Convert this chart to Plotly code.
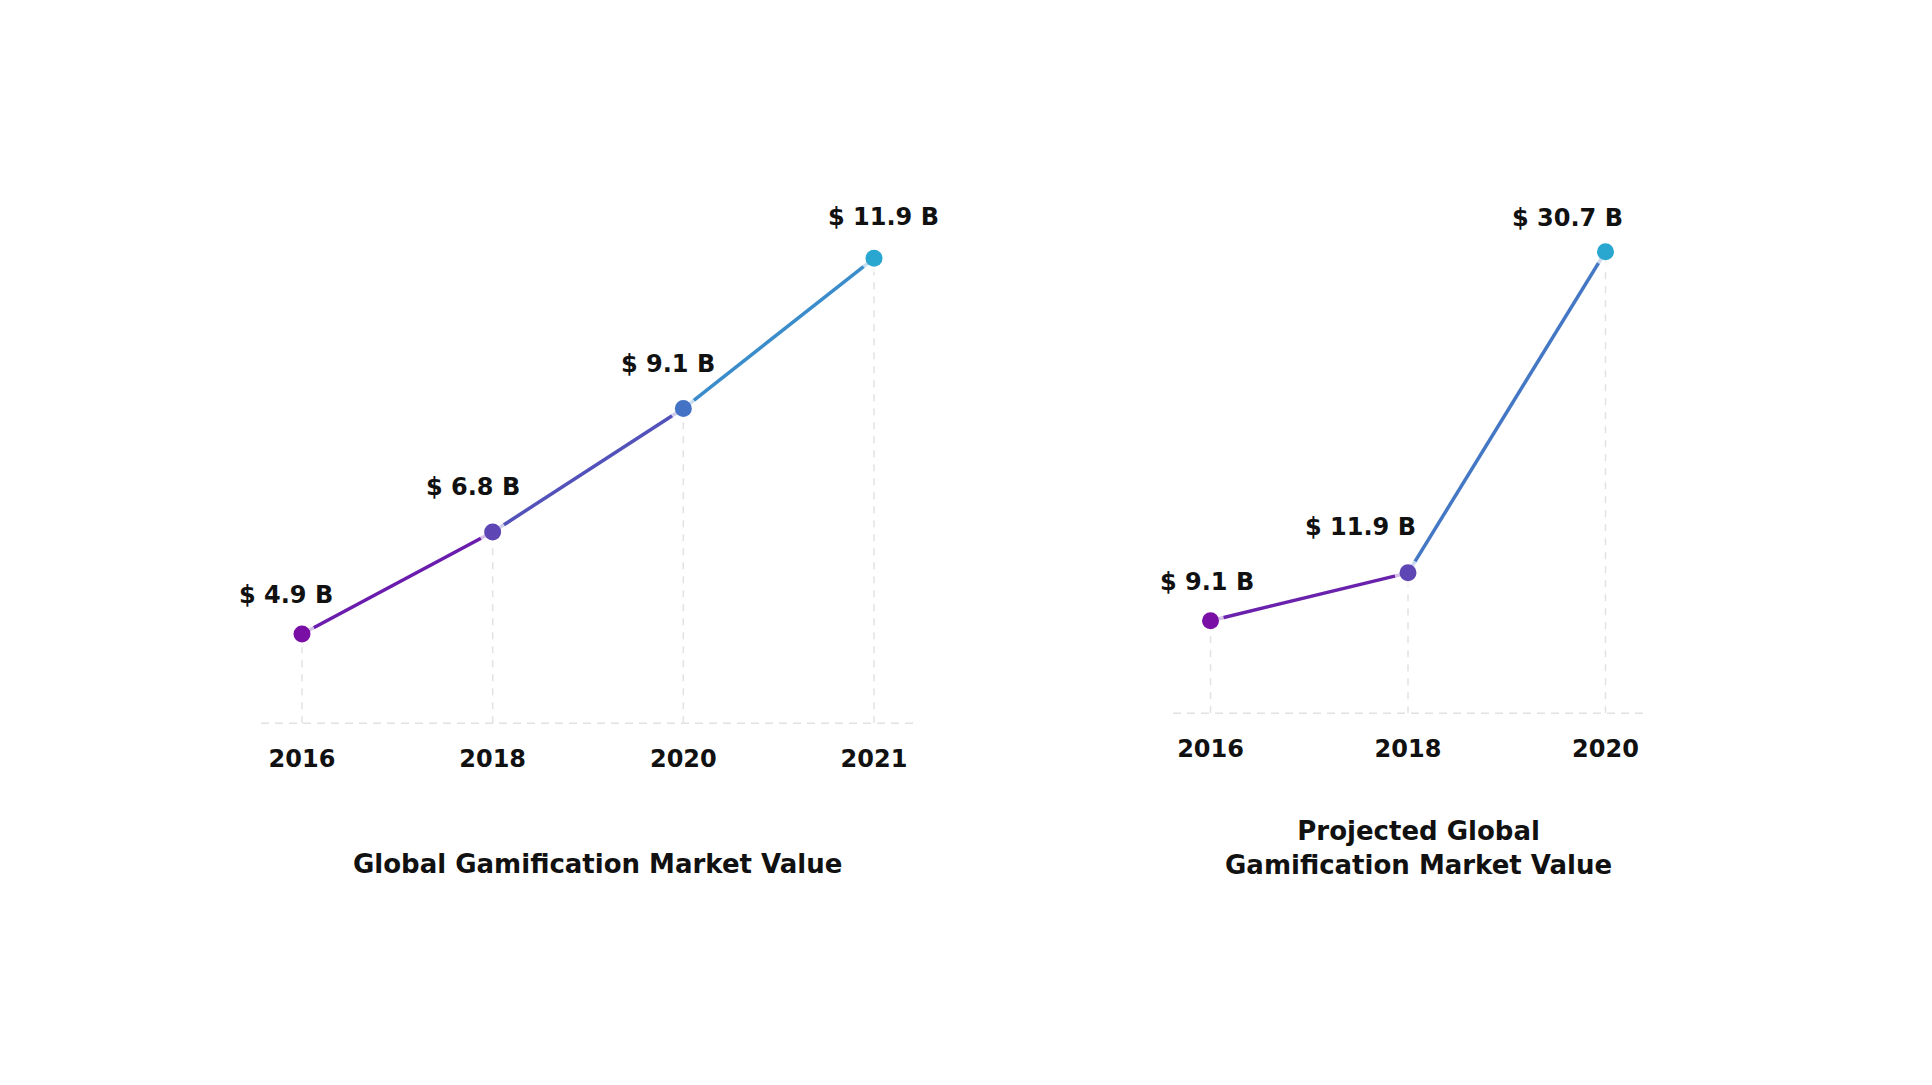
import plotly.graph_objects as go

# ---- data ----
left_years = ["2016", "2018", "2020", "2021"]
left_values = [4.9, 6.8, 9.1, 11.9]
left_labels = ["$ 4.9 B", "$ 6.8 B", "$ 9.1 B", "$ 11.9 B"]

right_years = ["2016", "2018", "2020"]
right_values = [9.1, 11.9, 30.7]
right_labels = ["$ 9.1 B", "$ 11.9 B", "$ 30.7 B"]

left_title = "Global Gamification Market Value"
right_title = "Projected Global<br>Gamification Market Value"

# ---- styles ----
left_point_colors = ["#7A0FA6", "#5E46B4", "#4472C4", "#2AA7D0"]
left_seg_colors = ["#6A1DAD", "#5352BA", "#3A8CCA"]
right_point_colors = ["#7A0FA6", "#5E46B4", "#2AA7D0"]
right_seg_colors = ["#6A22AD", "#4478C4"]

left_label_dx = [-16, -20, -15, 9]
left_label_dy = [39, 45, 45, 41]
right_label_dx = [-4, -48, -38]
right_label_dy = [39, 46, 34]

left_yrange = [3.236, 13.918]
right_yrange = [3.68, 36.65]

FONT = "DejaVu Sans"
GRID = "#E2E2E2"

# page body has an 8px margin
OFF = 8
W, H = 1932 - 2 * OFF, 1085 - 2 * OFF


def fx(px):
    return (px - OFF) / W


def fy(py):
    return 1 - (py - OFF) / H


fig = go.Figure()


def add_chart(years, values, labels, pcolors, scolors, ldx, ldy, yr, xa, ya):
    for c, v in zip(years, values):
        fig.add_trace(go.Scatter(
            x=[c, c], y=[yr[0], v], mode="lines",
            line=dict(color=GRID, width=1.5, dash="7px,7px"),
            hoverinfo="skip", showlegend=False, xaxis=xa, yaxis=ya))
    for i in range(len(values) - 1):
        fig.add_trace(go.Scatter(
            x=[years[i], years[i + 1]], y=[values[i], values[i + 1]],
            mode="lines", line=dict(color=scolors[i], width=3.5),
            hoverinfo="skip", showlegend=False, xaxis=xa, yaxis=ya))
    fig.add_trace(go.Scatter(
        x=years, y=values, mode="markers",
        marker=dict(size=27, color="rgba(255,255,255,0.72)", line=dict(width=0)),
        hoverinfo="skip", showlegend=False, xaxis=xa, yaxis=ya))
    fig.add_trace(go.Scatter(
        x=years, y=values, mode="markers",
        marker=dict(size=17, color=pcolors, line=dict(width=0)),
        showlegend=False, xaxis=xa, yaxis=ya))
    for i, (v, t, dx, dy) in enumerate(zip(values, labels, ldx, ldy)):
        fig.add_annotation(
            x=i, y=v, xref=xa, yref=ya, text=t, showarrow=False,
            xshift=dx, yshift=dy, yanchor="middle", xanchor="center",
            font=dict(family=FONT, size=24, color="#111111", weight="bold"))


add_chart(left_years, left_values, left_labels, left_point_colors, left_seg_colors,
          left_label_dx, left_label_dy, left_yrange, "x", "y")
add_chart(right_years, right_values, right_labels, right_point_colors, right_seg_colors,
          right_label_dx, right_label_dy, right_yrange, "x2", "y2")

axis_common = dict(showgrid=False, zeroline=False, showline=False, ticks="",
                   tickfont=dict(family=FONT, size=24, color="#111111", weight="bold"),
                   type="category", ticklabelstandoff=19, fixedrange=True)
yaxis_common = dict(showgrid=False, zeroline=False, showline=False,
                    showticklabels=False, ticks="", fixedrange=True)

fig.update_layout(
    width=W, height=H,
    margin=dict(l=0, r=0, t=0, b=0),
    paper_bgcolor="white", plot_bgcolor="white",
    showlegend=False,
    xaxis=dict(domain=[fx(261), fx(915)], range=[-0.215, 3.215], anchor="y", **axis_common),
    yaxis=dict(domain=[fy(723.3), fy(150)], range=left_yrange, anchor="x", **yaxis_common),
    xaxis2=dict(domain=[fx(1173), fx(1645)], range=[-0.19, 2.2], anchor="y2", **axis_common),
    yaxis2=dict(domain=[fy(713.3), fy(150)], range=right_yrange, anchor="x2", **yaxis_common),
)

for xr, yr in (("x domain", "y domain"), ("x2 domain", "y2 domain")):
    fig.add_shape(type="line", xref=xr, yref=yr, x0=0, x1=1, y0=0, y1=0,
                  line=dict(color=GRID, width=1.5, dash="8px,6px"), layer="below")

fig.add_annotation(x=fx(597), y=fy(863.5), xref="paper", yref="paper",
                   text=left_title, showarrow=False, xanchor="center", yanchor="middle",
                   font=dict(family=FONT, size=26, color="#111111", weight="bold"))
fig.add_annotation(x=fx(1418), y=fy(848), xref="paper", yref="paper",
                   text=right_title, showarrow=False, xanchor="center", yanchor="middle",
                   font=dict(family=FONT, size=26, color="#111111", weight="bold"))

fig.write_html("out.html")
